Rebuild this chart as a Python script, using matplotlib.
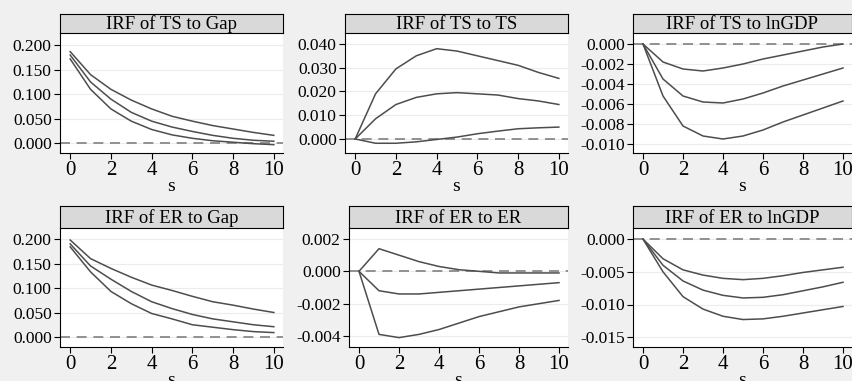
import numpy as np
import matplotlib.pyplot as plt

plt.rcParams['font.family'] = ['Liberation Serif', 'DejaVu Serif']

# Horizon (steps)
s = list(range(11))

# IRF of TS to Gap
ts_gap_hi = [0.187, 0.140, 0.110, 0.088, 0.070, 0.055, 0.045, 0.036, 0.029, 0.022, 0.016]
ts_gap_mid = [0.180, 0.125, 0.090, 0.063, 0.045, 0.033, 0.024, 0.016, 0.010, 0.006, 0.004]
ts_gap_lo = [0.172, 0.110, 0.070, 0.045, 0.028, 0.017, 0.010, 0.005, 0.002, -0.001, -0.003]

# IRF of TS to TS
ts_ts_hi = [0.0, 0.019, 0.0295, 0.035, 0.038, 0.037, 0.035, 0.033, 0.031, 0.028, 0.0255]
ts_ts_mid = [0.0, 0.0085, 0.0145, 0.0175, 0.019, 0.0195, 0.019, 0.0185, 0.017, 0.016, 0.0145]
ts_ts_lo = [0.0, -0.0018, -0.0018, -0.0012, -0.0002, 0.0008, 0.0022, 0.0033, 0.0043, 0.0047, 0.005]

# IRF of TS to lnGDP
ts_gdp_hi = [0.0, -0.0018, -0.0025, -0.0027, -0.0024, -0.0020, -0.0015, -0.0011, -0.0007, -0.0003, 0.0]
ts_gdp_mid = [0.0, -0.0035, -0.0052, -0.0058, -0.0059, -0.0055, -0.0049, -0.0042, -0.0036, -0.0030, -0.0024]
ts_gdp_lo = [0.0, -0.0052, -0.0082, -0.0092, -0.0095, -0.0092, -0.0086, -0.0078, -0.0071, -0.0064, -0.0057]

# IRF of ER to Gap
er_gap_hi = [0.198, 0.160, 0.140, 0.122, 0.106, 0.095, 0.083, 0.072, 0.065, 0.057, 0.050]
er_gap_mid = [0.190, 0.145, 0.118, 0.093, 0.072, 0.058, 0.046, 0.037, 0.031, 0.025, 0.021]
er_gap_lo = [0.184, 0.133, 0.093, 0.068, 0.048, 0.037, 0.025, 0.020, 0.015, 0.011, 0.009]

# IRF of ER to ER
er_er_hi = [0.0, 0.0014, 0.0010, 0.0006, 0.0003, 0.0001, 0.0, -0.0001, -0.0001, -0.0001, -0.0001]
er_er_mid = [0.0, -0.0012, -0.0014, -0.0014, -0.0013, -0.0012, -0.0011, -0.0010, -0.0009, -0.0008, -0.0007]
er_er_lo = [0.0, -0.0039, -0.0041, -0.0039, -0.0036, -0.0032, -0.0028, -0.0025, -0.0022, -0.0020, -0.0018]

# IRF of ER to lnGDP
er_gdp_hi = [0.0, -0.0030, -0.0047, -0.0055, -0.0060, -0.0062, -0.0060, -0.0056, -0.0051, -0.0047, -0.0043]
er_gdp_mid = [0.0, -0.0040, -0.0064, -0.0078, -0.0086, -0.0090, -0.0089, -0.0085, -0.0079, -0.0073, -0.0066]
er_gdp_lo = [0.0, -0.0050, -0.0088, -0.0107, -0.0118, -0.0123, -0.0122, -0.0118, -0.0113, -0.0108, -0.0103]

panels = [
    ("IRF of TS to Gap", [ts_gap_hi, ts_gap_mid, ts_gap_lo], [0, 0.05, 0.1, 0.15, 0.2], (-0.02, 0.225)),
    ("IRF of TS to TS", [ts_ts_hi, ts_ts_mid, ts_ts_lo], [0, 0.01, 0.02, 0.03, 0.04], (-0.0059, 0.0446)),
    ("IRF of TS to lnGDP", [ts_gdp_hi, ts_gdp_mid, ts_gdp_lo], [0, -0.002, -0.004, -0.006, -0.008, -0.01], (-0.0109, 0.0011)),
    ("IRF of ER to Gap", [er_gap_hi, er_gap_mid, er_gap_lo], [0, 0.05, 0.1, 0.15, 0.2], (-0.0204, 0.2225)),
    ("IRF of ER to ER", [er_er_hi, er_er_mid, er_er_lo], [0.002, 0, -0.002, -0.004], (-0.00468, 0.00268)),
    ("IRF of ER to lnGDP", [er_gdp_hi, er_gdp_mid, er_gdp_lo], [0, -0.005, -0.01, -0.015], (-0.0165, 0.0017)),
]

W, H = 853, 381
fig = plt.figure(figsize=(W / 100, H / 100), dpi=100, facecolor='#f0f0f0')

# pixel boxes: (left, right) per column, (title_top, axes_top, axes_bottom) per row
cols = [(60, 283), (345, 568), (633, 852)]
cols2 = [(60, 283), (349, 568), (633, 852)]
rows = [(14, 33, 153), (206, 228, 347)]

for i, (title, series, yticks, ylim) in enumerate(panels):
    r, c = divmod(i, 3)
    left, right = (cols if r == 0 else cols2)[c]
    ttop, atop, abot = rows[r]
    ax = fig.add_axes([left / W, 1 - abot / H, (right - left) / W, (abot - atop) / H])
    tax = fig.add_axes([left / W, 1 - atop / H, (right - left) / W, (atop - ttop) / H])
    tax.set_facecolor('#d9d9d9')
    tax.set_xticks([])
    tax.set_yticks([])
    tax.text(0.5, 0.45, title, ha='center', va='center', fontsize=13.5, transform=tax.transAxes)

    ax.set_facecolor('white')
    for y in yticks:
        ax.axhline(y, color='#ececec', lw=0.8, zorder=0)
    ax.axhline(0, color='#808080', lw=1.2, ls=(0, (6, 4)), zorder=1)
    for vals in series:
        ax.plot(s, vals, color='#4d4d4d', lw=1.1, zorder=2)
    ax.set_xlim(-0.5, 10.45)
    ax.set_ylim(*ylim)
    ax.set_xticks([0, 2, 4, 6, 8, 10])
    ax.set_yticks(yticks)
    ax.set_yticklabels([f"{v:.3f}" for v in yticks])
    ax.tick_params(axis='x', labelsize=15, length=4, pad=2)
    ax.tick_params(axis='y', labelsize=12.5, length=4, pad=2)
    ax.spines['top'].set_visible(False)
    ax.spines['right'].set_visible(False)
    ax.set_xlabel('s', fontsize=14, labelpad=-2)

fig.savefig('out.png', dpi=100, facecolor=fig.get_facecolor())
